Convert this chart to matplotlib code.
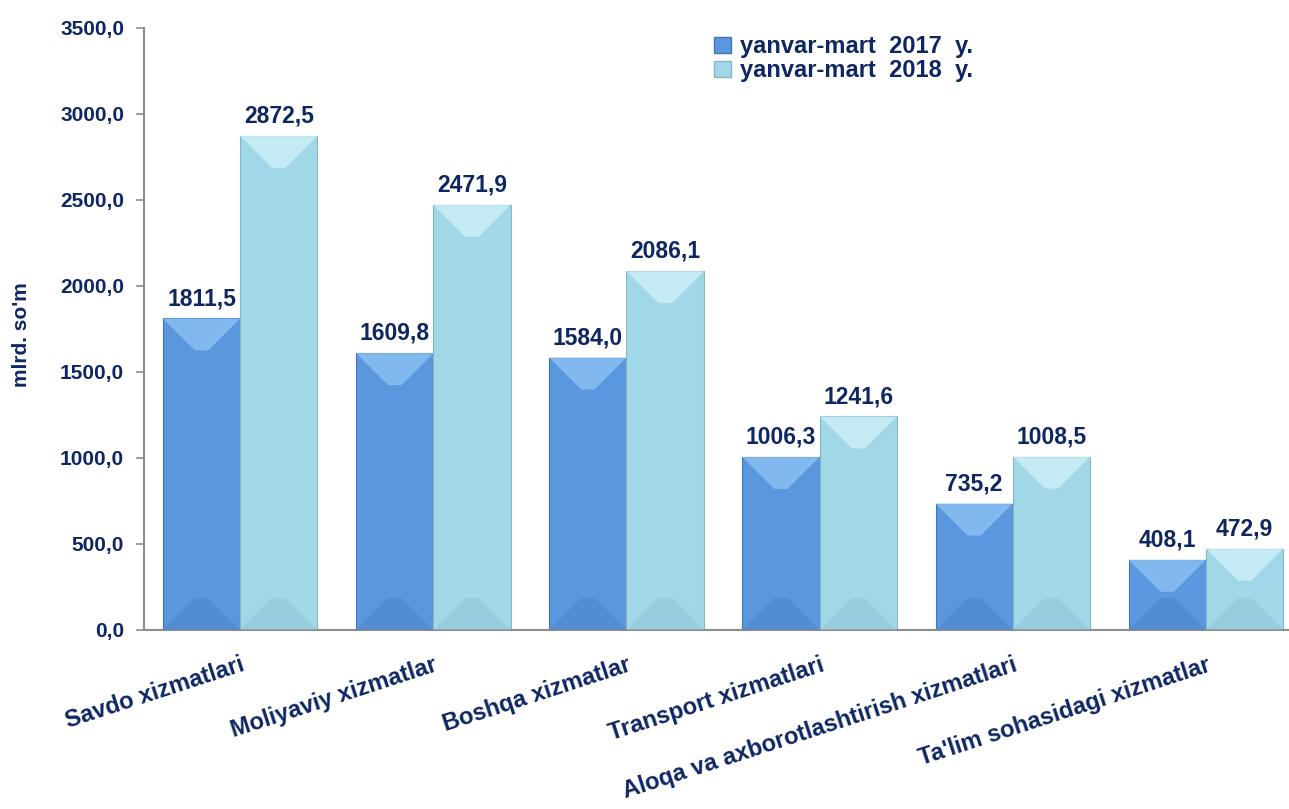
import matplotlib
matplotlib.use("Agg")
import matplotlib.pyplot as plt
from matplotlib.patches import Polygon, Patch
import numpy as np

categories = ["Savdo xizmatlari", "Moliyaviy xizmatlar", "Boshqa xizmatlar",
              "Transport xizmatlari", "Aloqa va axborotlashtirish xizmatlari",
              "Ta'lim sohasidagi xizmatlar"]
values_2017 = [1811.5, 1609.8, 1584.0, 1006.3, 735.2, 408.1]
values_2018 = [2872.5, 2471.9, 2086.1, 1241.6, 1008.5, 472.9]
series_names = ["yanvar-mart  2017  y.", "yanvar-mart  2018  y."]
yticks = [0, 500, 1000, 1500, 2000, 2500, 3000, 3500]

NAVY = "#0E2763"
C17 = {"main": "#5A97DE", "top": "#8CC2F4", "bot": "#4C84CB", "edge": "#4474B5"}
C18 = {"main": "#A1D8E8", "top": "#CDEFF8", "bot": "#90C5D3", "edge": "#86B5C3"}

plt.rcParams["font.family"] = ["Liberation Sans", "DejaVu Sans"]
plt.rcParams["font.weight"] = "bold"

W, H = 1289, 809
fig = plt.figure(figsize=(W / 100, H / 100), dpi=100)
ax = fig.add_axes([143.6 / W, (H - 630) / H, (W - 143.6) / W, 602 / H])

x = np.arange(len(categories))
bw = 0.4
ax.set_xlim(-0.5, 5.43)
ax.set_ylim(0, 3500)

b1 = ax.bar(x - bw / 2, values_2017, bw, color=C17["main"], edgecolor=C17["edge"], linewidth=0.8, zorder=2)
b2 = ax.bar(x + bw / 2, values_2018, bw, color=C18["main"], edgecolor=C18["edge"], linewidth=0.8, zorder=2)

# bevel effect derived from each bar's geometry
inv = ax.transData.inverted()
p0 = inv.transform((0, 0))
p1 = inv.transform((32, 32))
ddx, ddy = p1[0] - p0[0], p1[1] - p0[1]

def bevel(bars, c):
    for r in bars:
        x0, w, h = r.get_x(), r.get_width(), r.get_height()
        x1 = x0 + w
        d = min(ddy, h / 2)
        dx = ddx * d / ddy
        top = Polygon([(x0, h), (x1, h), (x1 - dx, h - d), (x0 + dx, h - d)],
                      closed=True, facecolor=c["top"], edgecolor="none", alpha=0.8, zorder=3)
        bot = Polygon([(x0, 0), (x1, 0), (x1 - dx, d), (x0 + dx, d)],
                      closed=True, facecolor=c["bot"], edgecolor="none", alpha=0.55, zorder=3)
        ax.add_patch(top)
        ax.add_patch(bot)

bevel(b1, C17)
bevel(b2, C18)

def fmt(v):
    return f"{v:.1f}".replace(".", ",")

for bars, vals in ((b1, values_2017), (b2, values_2018)):
    for r, v in zip(bars, vals):
        ax.annotate(fmt(v), (r.get_x() + r.get_width() / 2, r.get_height()),
                    xytext=(0, 6), textcoords="offset points", ha="center", va="bottom",
                    fontsize=16.5, fontweight="bold", color=NAVY, zorder=5)

ax.set_yticks(yticks)
ax.set_yticklabels([fmt(v) for v in yticks], fontsize=15, fontweight="bold", color=NAVY)
ax.tick_params(axis="y", direction="out", length=6, color="#8C8C8C", width=1.2, pad=8)
ax.set_xticks(x)
ax.set_xticklabels(categories, rotation=18, ha="right", rotation_mode="anchor",
                   fontsize=17, fontweight="bold", color=NAVY)
ax.tick_params(axis="x", length=0, pad=17)

for s in ("top", "right"):
    ax.spines[s].set_visible(False)
for s in ("left", "bottom"):
    ax.spines[s].set_color("#8C8C8C")
    ax.spines[s].set_linewidth(1.5)

fig.text(22 / W, 1 - 335 / H, "mlrd. so'm", rotation=90, ha="center", va="center",
         fontsize=15, fontweight="bold", color=NAVY)

handles = [Patch(facecolor=C17["main"], edgecolor=C17["edge"]),
           Patch(facecolor=C18["main"], edgecolor=C18["edge"])]
fig.legend(handles, series_names, loc="upper left", bbox_to_anchor=(693 / W, 1 - 14 / H),
           frameon=False, handlelength=0.7, handleheight=0.7, handletextpad=0.4,
           labelspacing=0.05, prop={"size": 17, "weight": "bold"}, labelcolor=NAVY)

fig.savefig("out.png", dpi=100)
